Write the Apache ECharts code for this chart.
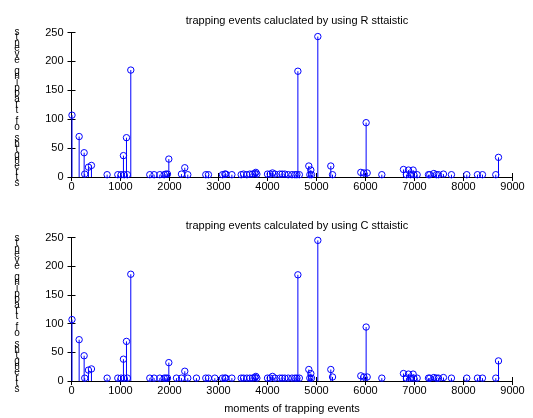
<!DOCTYPE html>
<html><head><meta charset="utf-8">
<script src="https://cdn.jsdelivr.net/npm/echarts@6/dist/echarts.min.js"></script>
<style>html,body{margin:0;padding:0;background:#fff}#c{width:533px;height:418px}</style>
</head><body><div id="c"></div>
<script>
const titleR = 'trapping events caluclated by using R sttaistic';
const titleC = 'trapping events calculated by using C sttaistic';
const yLabel = 'strengths of trapping events';
const xLabel = 'moments of trapping events';
const xTicks = [0,1000,2000,3000,4000,5000,6000,7000,8000,9000];
const yTicks = [0,50,100,150,200,250];

const rMoments = [10,156,258,270,346,407,727,945,1013,1060,1075,1122,1140,1210,1598,1686,1802,1891,1925,1959,1986,2244,2312,2373,2741,2795,3082,3130,3150,3273,3463,3511,3579,3640,3694,3741,3762,3783,4000,4054,4102,4150,4252,4300,4354,4422,4500,4560,4600,4620,4650,4843,4864,4884,4898,5027,5292,5327,5904,5966,6013,6034,6333,6775,6836,6877,6918,6972,6986,7054,7285,7312,7394,7448,7489,7591,7754,8067,8285,8387,8659,8714];
const rValues  = [107,70,42,5,17,20,4,4,4,37,4,68,4,185,4,4,4,4,5,5,31,5,16,4,4,4,4,5,5,4,4,5,4,5,5,6,8,5,5,5,7,5,5,5,5,4,4,4,4,183,4,19,4,12,4,243,19,4,8,7,94,7,4,13,4,12,4,12,4,4,4,4,6,4,4,5,4,4,4,4,4,34];

const cMoments = [10,156,258,270,346,407,727,945,1013,1060,1075,1122,1140,1210,1598,1686,1802,1891,1925,1959,1986,2142,2244,2312,2373,2550,2741,2795,2925,3082,3130,3150,3273,3463,3511,3579,3640,3694,3741,3762,3783,4000,4054,4102,4150,4252,4300,4354,4422,4500,4560,4600,4620,4650,4843,4864,4884,4898,5027,5292,5327,5904,5966,6013,6034,6333,6775,6836,6877,6918,6972,6986,7054,7285,7312,7394,7448,7489,7591,7754,8067,8285,8387,8659,8714];
const cValues  = [107,72,44,5,19,21,5,5,5,38,5,69,5,186,5,5,5,5,5,5,32,5,5,17,5,5,5,5,5,5,5,5,5,5,5,5,5,5,6,8,5,5,5,8,5,5,5,5,5,5,5,5,185,5,20,5,13,5,245,20,7,9,7,94,7,5,13,5,12,5,12,5,5,5,5,6,5,5,6,5,5,5,5,5,35];

const BLUE = '#0000ff';
const FONT = '"Liberation Sans", Arial, sans-serif';
const chart = echarts.init(document.getElementById('c'), null, {renderer:'canvas'});

const grids = [
  {left:71.5, top:32.5, width:441, height:144.5},
  {left:71.5, top:237.5, width:441, height:143.5}
];

function xAxes(gi){
  return [
    {type:'value', gridIndex:gi, min:xTicks[0], max:xTicks[xTicks.length-1], interval:xTicks[1]-xTicks[0], position:'bottom',
     axisLine:{lineStyle:{color:'#000',width:1}}, axisTick:{inside:true,length:4,lineStyle:{color:'#000'}},
     axisLabel:{color:'#000',fontSize:11,fontFamily:FONT,margin:4,formatter:v=>String(v)}, splitLine:{show:false}},
    {type:'value', gridIndex:gi, min:xTicks[0], max:xTicks[xTicks.length-1], interval:xTicks[1]-xTicks[0], position:'top',
     axisLine:{lineStyle:{color:'#000',width:1}}, axisTick:{inside:true,length:4,lineStyle:{color:'#000'}},
     axisLabel:{show:false}, splitLine:{show:false}}
  ];
}
function yAxes(gi){
  return [
    {type:'value', gridIndex:gi, min:yTicks[0], max:yTicks[yTicks.length-1], interval:yTicks[1]-yTicks[0], position:'left',
     axisLine:{show:true,lineStyle:{color:'#000',width:1}}, axisTick:{show:true,inside:true,length:4,lineStyle:{color:'#000'}},
     axisLabel:{color:'#000',fontSize:11,fontFamily:FONT,margin:8,formatter:v=>String(v)}, splitLine:{show:false}},
    {type:'value', gridIndex:gi, min:yTicks[0], max:yTicks[yTicks.length-1], interval:yTicks[1]-yTicks[0], position:'right',
     axisLine:{show:true,lineStyle:{color:'#000',width:1}}, axisTick:{show:true,inside:true,length:4,lineStyle:{color:'#000'}},
     axisLabel:{show:false}, splitLine:{show:false}}
  ];
}

function stemSeries(gi, xs, ys){
  return {
    type:'custom', xAxisIndex:gi*2, yAxisIndex:gi*2, clip:false,
    data: xs.map((x,i)=>[x, ys[i]]),
    renderItem(params, api){
      const x = api.value(0), y = api.value(1);
      const p0 = api.coord([x,0]);
      const p1 = api.coord([x,y]);
      return {type:'group', children:[
        {type:'line', shape:{x1:p0[0],y1:p0[1],x2:p1[0],y2:p1[1]}, style:{stroke:BLUE,lineWidth:1}},
        {type:'circle', shape:{cx:p1[0],cy:p1[1],r:3.2}, style:{stroke:BLUE,fill:null,lineWidth:1}}
      ]};
    }
  };
}

const stacked = yLabel.split('').reverse().join('\n');

chart.setOption({
  animation:false,
  title:[
    {text:titleR, left:292, top:10, textAlign:'center', textStyle:{fontSize:11,fontWeight:'normal',color:'#000',fontFamily:FONT}},
    {text:titleC, left:292, top:215, textAlign:'center', textStyle:{fontSize:11,fontWeight:'normal',color:'#000',fontFamily:FONT}}
  ],
  grid:grids,
  xAxis:[...xAxes(0), ...xAxes(1)],
  yAxis:[...yAxes(0), ...yAxes(1)],
  series:[stemSeries(0, rMoments, rValues), stemSeries(1, cMoments, cValues)],
  graphic:[
    {type:'text', style:{text:xLabel, x:292, y:403, textAlign:'center', fontSize:11, fontFamily:FONT, fill:'#000'}},
    {type:'text', style:{text:stacked, x:17, y:29, textAlign:'center', fontSize:10, lineHeight:5.6, fontFamily:FONT, fill:'#000'}},
    {type:'text', style:{text:stacked, x:17, y:235, textAlign:'center', fontSize:10, lineHeight:5.6, fontFamily:FONT, fill:'#000'}}
  ]
});
</script></body></html>
